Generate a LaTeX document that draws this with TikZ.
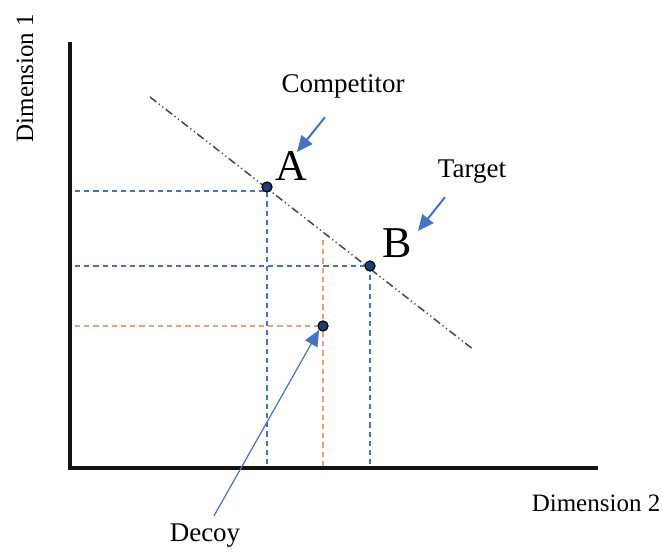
\documentclass[tikz,border=0pt]{standalone}
\usepackage{fontspec}
\setmainfont{Liberation Serif}
\usetikzlibrary{arrows.meta, positioning, calc}
\definecolor{axisc}{RGB}{20,20,20}
\definecolor{guidec}{RGB}{68,114,196}
\definecolor{decoyc}{RGB}{240,160,110}
\definecolor{pointc}{RGB}{30,60,120}
\definecolor{frontc}{RGB}{70,70,70}
\tikzset{
  axis/.style={line width=1.6pt, draw=axisc},
  guide/.style={draw=guidec, line width=0.55pt, dash pattern=on 2.6pt off 2pt},
  dguide/.style={draw=decoyc, line width=0.65pt, dash pattern=on 2.6pt off 2pt},
  front/.style={draw=frontc, line width=0.75pt,
    dash pattern=on 4pt off 1.6pt on 0.6pt off 1.6pt on 0.6pt off 1.6pt},
  option/.style={circle, draw=black, fill=pointc, line width=0.5pt,
    minimum size=5pt, inner sep=0pt},
  tag/.style={font=\fontsize{13.5}{15}\selectfont, text=black, inner sep=1pt},
  dimlbl/.style={font=\fontsize{12.5}{14}\selectfont, text=black, inner sep=1pt},
  big/.style={font=\fontsize{22}{24}\selectfont, text=black, inner sep=1pt},
  pointer/.style={-{Triangle[length=8pt, width=7pt]}, draw=guidec, line width=1pt},
  thin pointer/.style={-{Triangle[length=8pt, width=7pt]}, draw=guidec, line width=0.6pt},
}
\begin{document}
\begin{tikzpicture}[x=0.5pt, y=-0.5pt]
  \useasboundingbox (0,0) rectangle (663,552);

  % axes
  \coordinate (origin) at (70,468);
  \coordinate (ytop) at (70,42);
  \coordinate (xend) at (598,468);
  \draw[axis] (ytop) -- (origin) -- (xend);
  \node[dimlbl, rotate=90] (dim1) at (25,78) {Dimension 1};
  \node[dimlbl] (dim2) at (596,503) {Dimension 2};

  % efficient frontier
  \coordinate (fstart) at (150,97);
  \coordinate (fend) at (474,350);
  \draw[front] (fstart) -- (fend);

  % the three options
  \node[option] (ptA) at (267,187) {};
  \node[option] (ptB) at (370,266) {};
  \node[option] (ptD) at (323,326) {};

  % guide lines to the axes
  \draw[guide] (75,191) -| (ptA.center |- origin);
  \draw[guide] (75,266) -- (ptB.center);
  \draw[guide] (ptB.center) -- (ptB.center |- origin);
  \draw[dguide] (75,326) -- (ptD.center);
  \draw[dguide] (323,240) -- (ptD.center |- origin);
  \node[option] at (ptA) {};
  \node[option] at (ptB) {};
  \node[option] at (ptD) {};

  % labels
  \node[big] (lblA) at (291,166) {A};
  \node[big] (lblB) at (397,243) {B};
  \node[tag] (comp) at (343,86) {Competitor};
  \node[tag] (targ) at (472,172) {Target};
  \node[tag] (decoy) at (205,536) {Decoy};

  \coordinate (compto) at (297,152);
  \coordinate (targto) at (418,231);
  \draw[pointer] ($(comp.south)+(-18,17)$) -- (compto);
  \draw[pointer] ($(targ.south)+(-27,11)$) -- (targto);
  \draw[thin pointer] ($(decoy.north)+(9,-6)$) -- (ptD.south west);

\end{tikzpicture}
\end{document}
